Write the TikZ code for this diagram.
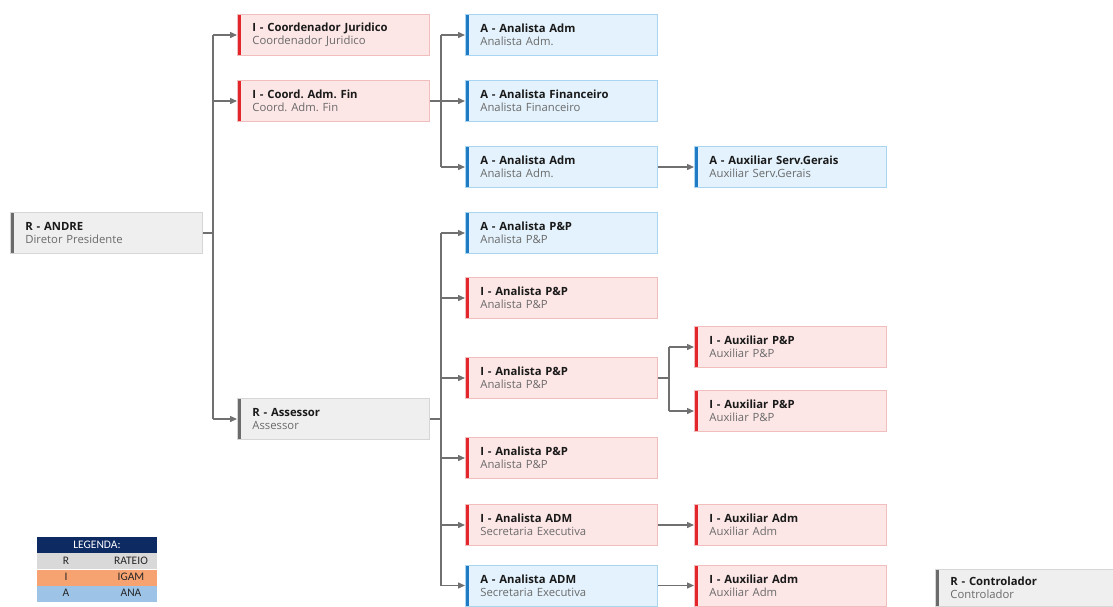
\documentclass[tikz,border=0pt]{standalone}
\usepackage{fontspec}
\setmainfont{Open Sans}
\newfontfamily\legfont{Carlito}
\usepackage{tikz}
\usetikzlibrary{arrows.meta, positioning, calc}

\definecolor{redfill}{HTML}{FDE6E6}
\definecolor{redline}{HTML}{F2BDBD}
\definecolor{redbar}{HTML}{E3262B}
\definecolor{bluefill}{HTML}{E3F2FC}
\definecolor{blueline}{HTML}{A9D5F0}
\definecolor{bluebar}{HTML}{1F7BC4}
\definecolor{grayfill}{HTML}{EFEFEF}
\definecolor{grayline}{HTML}{D6D6D6}
\definecolor{graybar}{HTML}{6B6B6B}
\definecolor{linkgray}{HTML}{707070}
\definecolor{titlecol}{HTML}{1A1A1A}
\definecolor{subgray}{HTML}{6A6A6A}
\definecolor{legnavy}{HTML}{0E2A63}
\definecolor{legr}{HTML}{D9D9D9}
\definecolor{legi}{HTML}{F7A271}
\definecolor{lega}{HTML}{9DC3E6}

\frenchspacing
\newcommand{\role}[2]{\textbf{#1}\\\textcolor{subgray}{#2}}

\begin{document}
\begin{tikzpicture}[
    x=1pt, y=-1pt,
    box/.style={rectangle, draw=#1line, fill=#1fill, line width=0.8pt, minimum width=192pt, minimum height=41pt, text width=162pt, inner xsep=15pt, inner ysep=0pt, align=left, anchor=west, text=titlecol, font=\fontsize{11.3}{13.5}\selectfont,
        path picture={\fill[#1bar] (path picture bounding box.north west) rectangle ([xshift=4pt]path picture bounding box.south west);}},
    rbox/.style={box=gray},
    ibox/.style={box=red},
    abox/.style={box=blue},
    link/.style={draw=linkgray, line width=1.4pt},
    arrow/.style={link, -{Triangle[length=7pt, width=6pt]}},
    legrow/.style={rectangle, minimum width=120pt, minimum height=16pt, inner sep=0pt},
    legtxt/.style={font=\legfont\fontsize{11.5}{12}\selectfont, text=black!85, inner sep=0pt}
]
\useasboundingbox (0,0) rectangle (1113,606);

% Boxes
\node[rbox] (andre) at (10, 233) {\role{R - ANDRE}{Diretor Presidente}};
\node[ibox] (jur) at (237, 35) {\role{I - Coordenador Juridico}{Coordenador Juridico}};
\node[ibox] (admfin) at (237, 101) {\role{I - Coord. Adm. Fin}{Coord. Adm. Fin}};
\node[rbox] (assessor) at (237, 419) {\role{R - Assessor}{Assessor}};

\node[abox] (anadm1) at (465, 35) {\role{A - Analista Adm}{Analista Adm.}};
\node[abox] (anfin) at (465, 101) {\role{A - Analista Financeiro}{Analista Financeiro}};
\node[abox] (anadm2) at (465, 167) {\role{A - Analista Adm}{Analista Adm.}};
\node[abox] (auxserv) at (694, 167) {\role{A - Auxiliar Serv.Gerais}{Auxiliar Serv.Gerais}};

\node[abox] (anpp1) at (465, 233) {\role{A - Analista P\&P}{Analista P\&P}};
\node[ibox] (anpp2) at (465, 298) {\role{I - Analista P\&P}{Analista P\&P}};
\node[ibox] (anpp3) at (465, 378) {\role{I - Analista P\&P}{Analista P\&P}};
\node[ibox] (auxpp1) at (694, 347) {\role{I - Auxiliar P\&P}{Auxiliar P\&P}};
\node[ibox] (auxpp2) at (694, 411) {\role{I - Auxiliar P\&P}{Auxiliar P\&P}};
\node[ibox] (anpp4) at (465, 458) {\role{I - Analista P\&P}{Analista P\&P}};
\node[ibox] (anadmi) at (465, 525) {\role{I - Analista ADM}{Secretaria Executiva}};
\node[ibox] (auxadm1) at (694, 525) {\role{I - Auxiliar Adm}{Auxiliar Adm}};
\node[abox] (anadma) at (465, 585.5) {\role{A - Analista ADM}{Secretaria Executiva}};
\node[ibox] (auxadm2) at (694, 585.5) {\role{I - Auxiliar Adm}{Auxiliar Adm}};

\node[rbox, minimum width=178pt, minimum height=37pt, text width=148pt] (control) at (935, 587.5) {\role{R - Controlador}{Controlador}};

% Junctions
\coordinate (ja) at (213, 0);
\coordinate (jb) at (441, 0);
\coordinate (jc) at (669, 0);

% Connectors
\draw[link] (andre.east) -- (andre.east -| ja);
\draw[link] (jur.west -| ja) -- (assessor.west -| ja);
\foreach \n in {jur, admfin, assessor}
    \draw[arrow] (\n.west -| ja) -- (\n.west);

\draw[link] (admfin.east) -- (admfin.east -| jb);
\draw[link] (anadm1.west -| jb) -- (anadm2.west -| jb);
\foreach \n in {anadm1, anfin, anadm2}
    \draw[arrow] (\n.west -| jb) -- (\n.west);
\draw[arrow] (anadm2.east) -- (auxserv.west);

\draw[link] (assessor.east) -- (assessor.east -| jb);
\draw[link] (anpp1.west -| jb) -- (anadma.west -| jb);
\foreach \n in {anpp1, anpp2, anpp3, anpp4, anadmi, anadma}
    \draw[arrow] (\n.west -| jb) -- (\n.west);

\draw[link] (anpp3.east) -- (anpp3.east -| jc);
\draw[link] (auxpp1.west -| jc) -- (auxpp2.west -| jc);
\foreach \n in {auxpp1, auxpp2}
    \draw[arrow] (\n.west -| jc) -- (\n.west);

\draw[arrow] (anadmi.east) -- (auxadm1.west);
\draw[arrow] (anadma.east) -- (auxadm2.west);

% Legend
\node[legrow, fill=legnavy, legtxt, text=white, minimum width=120pt, minimum height=16pt] (leg) at (97, 545) {LEGENDA:};
\node[legrow, fill=legr, below=0pt of leg] (legrr) {};
\node[legrow, fill=legi, below=0pt of legrr] (legri) {};
\node[legrow, fill=lega, below=0pt of legri] (legra) {};
\node[legtxt] (legrk) at (66, 561) {R};
\node[legtxt] (legrv) at (131, 561) {RATEIO};
\node[legtxt] (legik) at (66, 577) {I};
\node[legtxt] (legiv) at (131, 577) {IGAM};
\node[legtxt] (legak) at (66, 593) {A};
\node[legtxt] (legav) at (131, 593) {ANA};

\end{tikzpicture}
\end{document}
